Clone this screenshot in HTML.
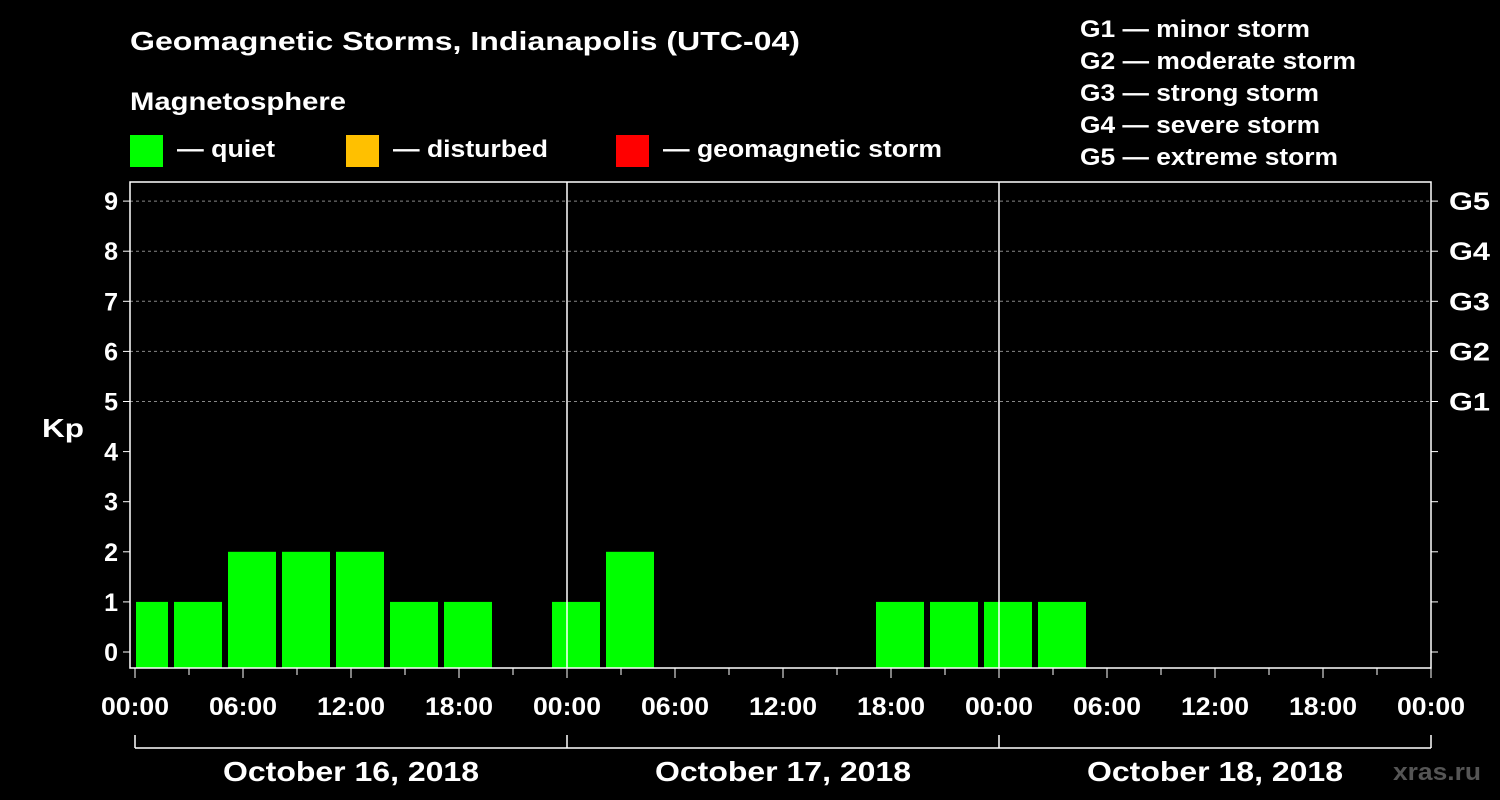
<!DOCTYPE html>
<html><head><meta charset="utf-8"><style>
html,body{margin:0;padding:0;background:#000;}
svg{display:block;font-family:"Liberation Sans",Arial,sans-serif;font-weight:bold;}
</style></head><body>
<svg id="chart" width="1500" height="800" viewBox="0 0 1500 800">
<rect width="1500" height="800" fill="#000"/>
<text x="130" y="50" fill="#fff" font-size="26" textLength="670" lengthAdjust="spacingAndGlyphs">Geomagnetic Storms, Indianapolis (UTC-04)</text>
<text x="130" y="110" fill="#fff" font-size="25" textLength="216" lengthAdjust="spacingAndGlyphs">Magnetosphere</text>
<g><rect x="130" y="135" width="33" height="32" fill="#00ff00"/><text x="177" y="157" fill="#fff" font-size="24" textLength="98" lengthAdjust="spacingAndGlyphs">— quiet</text></g>
<g><rect x="346" y="135" width="33" height="32" fill="#ffc000"/><text x="393" y="157" fill="#fff" font-size="24" textLength="155" lengthAdjust="spacingAndGlyphs">— disturbed</text></g>
<g><rect x="616" y="135" width="33" height="32" fill="#ff0000"/><text x="663" y="157" fill="#fff" font-size="24" textLength="279" lengthAdjust="spacingAndGlyphs">— geomagnetic storm</text></g>
<g fill="#fff" font-size="24">
<text x="1080" y="37" textLength="230" lengthAdjust="spacingAndGlyphs">G1 — minor storm</text>
<text x="1080" y="69" textLength="276" lengthAdjust="spacingAndGlyphs">G2 — moderate storm</text>
<text x="1080" y="101" textLength="239" lengthAdjust="spacingAndGlyphs">G3 — strong storm</text>
<text x="1080" y="133" textLength="240" lengthAdjust="spacingAndGlyphs">G4 — severe storm</text>
<text x="1080" y="165" textLength="258" lengthAdjust="spacingAndGlyphs">G5 — extreme storm</text>
</g>
<text x="42" y="437" fill="#fff" font-size="26" textLength="42" lengthAdjust="spacingAndGlyphs">Kp</text>
<text x="1393" y="780" fill="#555" font-size="24" textLength="88" lengthAdjust="spacingAndGlyphs">xras.ru</text>
<g id="grid"></g><g id="bars"></g><g id="axes"></g>
</svg>
<script>
const barHours = [0.5,3.5,6.5,9.5,12.5,15.5,18.5,24.5,27.5,42.5,45.5,48.5,51.5];
const kpValues = [1,1,2,2,2,1,1,1,2,1,1,1,1];
const yTicks = [0,1,2,3,4,5,6,7,8,9];
const gLabels = ["","","","","","G1","G2","G3","G4","G5"];
const xLabels = ["00:00","06:00","12:00","18:00","00:00","06:00","12:00","18:00","00:00","06:00","12:00","18:00","00:00"];
const dayLabels = ["October 16, 2018","October 17, 2018","October 18, 2018"];

const NS="http://www.w3.org/2000/svg";
const X0=135, PXH=18, Y0=652, PXK=50.1, TOP=182, BOT=668, L=130, R=1431;
const xs=h=>X0+h*PXH, ys=k=>Y0-k*PXK;
function mk(p,tag,at){const e=document.createElementNS(NS,tag);for(const k in at)e.setAttribute(k,at[k]);p.appendChild(e);return e;}
const grid=document.getElementById('grid'),bars=document.getElementById('bars'),axes=document.getElementById('axes');
yTicks.forEach((k,i)=>{
  const y=ys(k);
  if(k>=5){const l=mk(grid,'line',{x1:L,x2:R,y1:y,y2:y,stroke:'#888','stroke-dasharray':'3,3','stroke-width':1});
  
  }
  mk(axes,'line',{x1:L-7,x2:L,y1:y,y2:y,stroke:'#fff','stroke-width':1});
  mk(axes,'line',{x1:R,x2:R+7,y1:y,y2:y,stroke:'#fff','stroke-width':1});
  const tx=mk(axes,'text',{x:L-12,y:y+9,fill:'#fff','font-size':25,'text-anchor':'end'});
  tx.textContent=k;
  
  
  if(gLabels[i]){const g=mk(axes,'text',{x:R+18,y:y+9,fill:'#fff','font-size':25,textLength:41,lengthAdjust:'spacingAndGlyphs'});g.textContent=gLabels[i];
  
  }
});
barHours.forEach((h,i)=>{
  let x1=xs(h)-24,x2=xs(h)+24;x1=Math.max(x1,L+6);x2=Math.min(x2,R);
  const v=kpValues[i];
  const c=v>=5?'#ff0000':(v>=4?'#ffc000':'#00ff00');
  const b=mk(bars,'rect',{x:x1,y:ys(v),width:x2-x1,height:BOT-ys(v),fill:c});
  
  
});
const fr=mk(axes,'rect',{x:L,y:TOP,width:R-L,height:BOT-TOP,fill:'none',stroke:'#fff','stroke-width':1.5});


[1,2].forEach(d=>{const l=mk(axes,'line',{x1:xs(24*d),x2:xs(24*d),y1:TOP,y2:BOT,stroke:'#fff','stroke-width':1.5});

});
for(let h=0;h<=72;h+=3){const x=xs(h);mk(axes,'line',{x1:x,x2:x,y1:BOT,y2:BOT+(h%6?7:10),stroke:'#fff','stroke-width':1});}
xLabels.forEach((s,i)=>{const t=mk(axes,'text',{x:xs(i*6)-34,y:BOT+47,fill:'#fff','font-size':25,textLength:68,lengthAdjust:'spacingAndGlyphs'});t.textContent=s;

});
mk(axes,'line',{x1:xs(0),x2:xs(72),y1:748,y2:748,stroke:'#fff','stroke-width':1.5});
for(let d=0;d<=3;d++)mk(axes,'line',{x1:xs(24*d),x2:xs(24*d),y1:735,y2:748,stroke:'#fff','stroke-width':1.5});
dayLabels.forEach((s,i)=>{const t=mk(axes,'text',{x:xs(24*i+12)-128,y:781,fill:'#fff','font-size':28,textLength:256,lengthAdjust:'spacingAndGlyphs'});t.textContent=s;

});
</script>
</body></html>
